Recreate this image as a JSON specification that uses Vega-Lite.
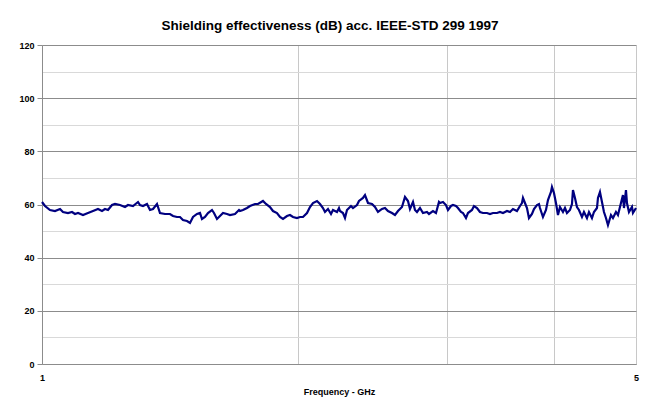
{
  "$schema": "https://vega.github.io/schema/vega-lite/v6.json",
  "width": 594,
  "height": 319,
  "autosize": {"type": "none"},
  "padding": {"left": 42, "top": 45, "right": 9, "bottom": 39},
  "background": "white",
  "config": {"view": {"stroke": null}, "font": "Liberation Sans"},
  "title": {
    "text": "Shielding effectiveness (dB) acc. IEEE-STD 299 1997",
    "font": "Liberation Sans",
    "fontSize": 13.5,
    "fontWeight": "bold",
    "color": "black",
    "anchor": "middle",
    "dx": -9,
    "offset": 9
  },
  "data": {
    "values": [
      {"f": 1.0000, "db": 60.94}, {"f": 1.0082, "db": 59.44}, {"f": 1.0219, "db": 57.93}, {"f": 1.0358, "db": 57.55},
      {"f": 1.0500, "db": 58.31}, {"f": 1.0585, "db": 57.18}, {"f": 1.0730, "db": 56.80}, {"f": 1.0847, "db": 57.18},
      {"f": 1.0935, "db": 56.43}, {"f": 1.1025, "db": 56.80}, {"f": 1.1175, "db": 56.05}, {"f": 1.1327, "db": 56.80},
      {"f": 1.1482, "db": 57.55}, {"f": 1.1638, "db": 58.31}, {"f": 1.1765, "db": 57.55}, {"f": 1.1861, "db": 58.31},
      {"f": 1.1958, "db": 57.93}, {"f": 1.2088, "db": 59.81}, {"f": 1.2187, "db": 60.19}, {"f": 1.2353, "db": 59.81},
      {"f": 1.2522, "db": 59.06}, {"f": 1.2624, "db": 59.81}, {"f": 1.2796, "db": 59.44}, {"f": 1.2971, "db": 60.94},
      {"f": 1.3041, "db": 59.81}, {"f": 1.3147, "db": 59.44}, {"f": 1.3291, "db": 60.19}, {"f": 1.3399, "db": 57.93},
      {"f": 1.3509, "db": 58.31}, {"f": 1.3656, "db": 60.19}, {"f": 1.3767, "db": 56.80}, {"f": 1.3955, "db": 56.43},
      {"f": 1.4145, "db": 56.43}, {"f": 1.4261, "db": 55.67}, {"f": 1.4416, "db": 55.30}, {"f": 1.4534, "db": 55.30},
      {"f": 1.4652, "db": 54.17}, {"f": 1.4812, "db": 53.79}, {"f": 1.4933, "db": 53.04}, {"f": 1.5055, "db": 55.30},
      {"f": 1.5219, "db": 56.43}, {"f": 1.5343, "db": 56.80}, {"f": 1.5426, "db": 54.55}, {"f": 1.5552, "db": 55.30},
      {"f": 1.5679, "db": 56.80}, {"f": 1.5850, "db": 57.93}, {"f": 1.5936, "db": 56.80}, {"f": 1.6066, "db": 54.55},
      {"f": 1.6197, "db": 55.67}, {"f": 1.6330, "db": 56.80}, {"f": 1.6508, "db": 56.43}, {"f": 1.6642, "db": 56.05},
      {"f": 1.6869, "db": 56.43}, {"f": 1.7053, "db": 57.93}, {"f": 1.7099, "db": 57.55}, {"f": 1.7239, "db": 57.93},
      {"f": 1.7427, "db": 58.68}, {"f": 1.7569, "db": 59.44}, {"f": 1.7809, "db": 60.19}, {"f": 1.7954, "db": 60.19},
      {"f": 1.8199, "db": 61.32}, {"f": 1.8347, "db": 60.19}, {"f": 1.8547, "db": 59.06}, {"f": 1.8699, "db": 57.55},
      {"f": 1.8902, "db": 56.80}, {"f": 1.9057, "db": 55.30}, {"f": 1.9212, "db": 54.55}, {"f": 1.9421, "db": 55.67},
      {"f": 1.9580, "db": 56.05}, {"f": 1.9740, "db": 55.30}, {"f": 1.9955, "db": 54.92}, {"f": 2.0118, "db": 55.30},
      {"f": 2.0282, "db": 55.30}, {"f": 2.0503, "db": 56.80}, {"f": 2.0670, "db": 59.06}, {"f": 2.0839, "db": 60.56},
      {"f": 2.1066, "db": 61.32}, {"f": 2.1238, "db": 60.19}, {"f": 2.1411, "db": 58.68}, {"f": 2.1528, "db": 57.18},
      {"f": 2.1703, "db": 58.31}, {"f": 2.1881, "db": 56.43}, {"f": 2.1999, "db": 57.93}, {"f": 2.2239, "db": 57.18},
      {"f": 2.2360, "db": 58.68}, {"f": 2.2420, "db": 57.55}, {"f": 2.2603, "db": 56.80}, {"f": 2.2726, "db": 54.92},
      {"f": 2.2850, "db": 57.93}, {"f": 2.3099, "db": 59.44}, {"f": 2.3224, "db": 58.68}, {"f": 2.3477, "db": 59.81},
      {"f": 2.3605, "db": 61.32}, {"f": 2.3862, "db": 62.45}, {"f": 2.3992, "db": 63.57}, {"f": 2.4188, "db": 60.56},
      {"f": 2.4451, "db": 60.19}, {"f": 2.4651, "db": 59.06}, {"f": 2.4852, "db": 57.18}, {"f": 2.5123, "db": 58.31},
      {"f": 2.5328, "db": 58.68}, {"f": 2.5534, "db": 57.55}, {"f": 2.5813, "db": 56.80}, {"f": 2.6023, "db": 56.05},
      {"f": 2.6236, "db": 57.55}, {"f": 2.6521, "db": 59.06}, {"f": 2.6738, "db": 62.82}, {"f": 2.6956, "db": 61.32},
      {"f": 2.7102, "db": 58.31}, {"f": 2.7324, "db": 60.94}, {"f": 2.7472, "db": 57.93}, {"f": 2.7621, "db": 57.18},
      {"f": 2.7847, "db": 58.68}, {"f": 2.8074, "db": 56.80}, {"f": 2.8380, "db": 57.18}, {"f": 2.8534, "db": 56.43},
      {"f": 2.8845, "db": 57.55}, {"f": 2.9081, "db": 56.80}, {"f": 2.9318, "db": 60.94}, {"f": 2.9397, "db": 60.56},
      {"f": 2.9637, "db": 60.94}, {"f": 2.9879, "db": 59.81}, {"f": 3.0042, "db": 57.93}, {"f": 3.0287, "db": 59.44},
      {"f": 3.0451, "db": 59.81}, {"f": 3.0700, "db": 59.44}, {"f": 3.0867, "db": 58.68}, {"f": 3.1119, "db": 57.18},
      {"f": 3.1288, "db": 56.80}, {"f": 3.1543, "db": 54.92}, {"f": 3.1714, "db": 56.80}, {"f": 3.2060, "db": 57.93},
      {"f": 3.2234, "db": 59.44}, {"f": 3.2497, "db": 58.68}, {"f": 3.2762, "db": 57.18}, {"f": 3.3030, "db": 56.80},
      {"f": 3.3390, "db": 56.80}, {"f": 3.3662, "db": 56.43}, {"f": 3.3937, "db": 56.80}, {"f": 3.4307, "db": 56.80},
      {"f": 3.4587, "db": 57.18}, {"f": 3.4869, "db": 56.80}, {"f": 3.5249, "db": 57.55}, {"f": 3.5536, "db": 57.18},
      {"f": 3.5826, "db": 58.31}, {"f": 3.6217, "db": 57.55}, {"f": 3.6512, "db": 59.44}, {"f": 3.6711, "db": 60.56},
      {"f": 3.6810, "db": 62.45}, {"f": 3.7010, "db": 60.56}, {"f": 3.7212, "db": 58.68}, {"f": 3.7414, "db": 54.92},
      {"f": 3.7719, "db": 56.43}, {"f": 3.7924, "db": 58.31}, {"f": 3.8233, "db": 59.81}, {"f": 3.8441, "db": 60.19},
      {"f": 3.8545, "db": 58.68}, {"f": 3.8860, "db": 55.30}, {"f": 3.9177, "db": 57.93}, {"f": 3.9390, "db": 61.69},
      {"f": 3.9712, "db": 64.70}, {"f": 3.9819, "db": 66.58}, {"f": 4.0036, "db": 64.33}, {"f": 4.0253, "db": 60.56},
      {"f": 4.0472, "db": 56.05}, {"f": 4.0692, "db": 59.06}, {"f": 4.1024, "db": 57.18}, {"f": 4.1247, "db": 58.68},
      {"f": 4.1471, "db": 56.80}, {"f": 4.1809, "db": 57.93}, {"f": 4.2036, "db": 60.19}, {"f": 4.2150, "db": 65.45},
      {"f": 4.2380, "db": 62.45}, {"f": 4.2610, "db": 59.06}, {"f": 4.2841, "db": 57.93}, {"f": 4.3191, "db": 55.30},
      {"f": 4.3426, "db": 57.18}, {"f": 4.3780, "db": 54.92}, {"f": 4.4018, "db": 57.18}, {"f": 4.4377, "db": 54.92},
      {"f": 4.4618, "db": 57.18}, {"f": 4.4982, "db": 58.68}, {"f": 4.5104, "db": 62.45}, {"f": 4.5349, "db": 64.70},
      {"f": 4.5596, "db": 60.94}, {"f": 4.5844, "db": 57.18}, {"f": 4.6093, "db": 54.92}, {"f": 4.6343, "db": 52.29},
      {"f": 4.6722, "db": 56.05}, {"f": 4.6975, "db": 54.92}, {"f": 4.7359, "db": 57.18}, {"f": 4.7616, "db": 56.05},
      {"f": 4.8005, "db": 60.56}, {"f": 4.8265, "db": 63.57}, {"f": 4.8396, "db": 58.68}, {"f": 4.8659, "db": 65.45},
      {"f": 4.8791, "db": 60.56}, {"f": 4.9056, "db": 57.18}, {"f": 4.9457, "db": 59.06}, {"f": 4.9591, "db": 56.80},
      {"f": 5.0000, "db": 58.68}
    ]
  },
  "mark": {"type": "line", "color": "#000080", "strokeWidth": 2.2, "interpolate": "linear"},
  "encoding": {
    "x": {
      "field": "f",
      "type": "quantitative",
      "scale": {"type": "log", "domain": [1, 5], "nice": false},
      "axis": {
        "title": "Frequency - GHz",
        "titleFont": "Liberation Sans",
        "titleFontSize": 9,
        "titleFontWeight": "bold",
        "titleColor": "black",
        "titlePadding": 5,
        "values": [1, 2, 3, 4, 5],
        "labelExpr": "datum.value == 1 || datum.value == 5 ? datum.value : ''",
        "labelFont": "Liberation Sans",
        "labelFontSize": 9,
        "labelFontWeight": "bold",
        "labelColor": "black",
        "labelPadding": 9,
        "labelFlush": false,
        "ticks": false,
        "domainColor": "#8c8c8c",
        "grid": true,
        "gridColor": "#c8c8c8",
        "gridWidth": 1
      }
    },
    "y": {
      "field": "db",
      "type": "quantitative",
      "scale": {"domain": [0, 120], "nice": false},
      "axis": {
        "title": null,
        "values": [0, 10, 20, 30, 40, 50, 60, 70, 80, 90, 100, 110, 120],
        "labelExpr": "datum.value % 20 === 0 ? datum.label : ''",
        "labelFont": "Liberation Sans",
        "labelFontSize": 9,
        "labelFontWeight": "bold",
        "labelColor": "black",
        "labelPadding": 3,
        "tickSize": 5,
        "tickColor": "#8c8c8c",
        "tickOpacity": {"condition": {"test": "datum.value % 20 === 0", "value": 1}, "value": 0},
        "domainColor": "#8c8c8c",
        "grid": true,
        "gridColor": {"condition": {"test": "datum.value % 20 === 0", "value": "#8c8c8c"}, "value": "#d9d9d9"},
        "gridWidth": 1
      }
    }
  }
}
